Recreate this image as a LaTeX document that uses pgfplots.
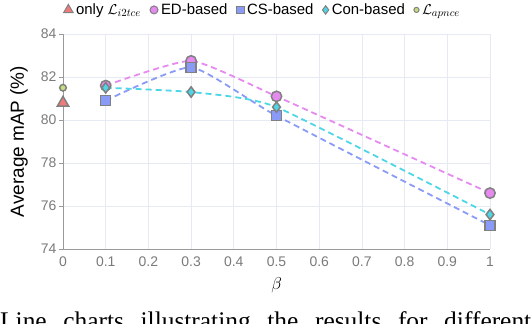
\documentclass[border=0pt]{standalone}
\usepackage{pgfplots}
\pgfplotsset{compat=1.18}
\usepackage{fontspec}
\setmainfont{Liberation Sans}
\newfontfamily\capfont{Liberation Serif}
\definecolor{cED}{HTML}{E68AF0}
\definecolor{cCS}{HTML}{8A9BF7}
\definecolor{cCon}{HTML}{4DD6E6}
\definecolor{cApn}{HTML}{C4DF7A}
\definecolor{cTri}{HTML}{F07A7A}
\definecolor{cEdge}{HTML}{808080}
\definecolor{cGrid}{HTML}{E6EAF2}
\definecolor{cTick}{HTML}{7A7A7A}

\begin{document}
\begin{tikzpicture}
\useasboundingbox (0bp,0bp) rectangle (532bp,324bp);
\begin{axis}[
  at={(63bp,75bp)}, anchor=south west,
  scale only axis, width=427bp, height=215bp,
  xmin=0, xmax=1, ymin=74, ymax=84,
  xtick={0,0.1,0.2,0.3,0.4,0.5,0.6,0.7,0.8,0.9,1},
  xticklabels={0,0.1,0.2,0.3,0.4,0.5,0.6,0.7,0.8,0.9,1},
  ytick={74,76,78,80,82,84},
  axis x line*=bottom, axis y line*=left,
  axis line style={cEdge!80, line width=0.8bp},
  grid=major, major grid style={cGrid, line width=0.8bp},
  tick align=outside, major tick length=4bp,
  xtick style={draw=none}, ytick style={cEdge!80, line width=0.8bp},
  tick label style={font=\fontsize{14}{16}\selectfont, text=cTick},
  yticklabel style={xshift=1bp},
  /pgf/number format/assume math mode=true,
  xlabel={$\beta$},
  xlabel style={at={(axis description cs:0.5,-0.167)}, anchor=center, font=\fontsize{18}{20}\selectfont},
  ylabel={Average mAP (\%)},
  ylabel style={at={(axis description cs:-0.103,0.5)}, anchor=center, rotate=0, font=\fontsize{19}{22}\selectfont},
  clip=false,
  legend columns=5,
  legend style={at={(axis description cs:0.468,1.112)}, anchor=center, draw=none, fill=none,
    font=\fontsize{15}{17}\selectfont, inner sep=0pt,
    /tikz/every odd column/.append style={column sep=1bp},
    /tikz/every even column/.append style={column sep=7bp}},
  legend image code/.code={\draw[#1] plot coordinates {(4bp,0bp)};},
  legend cell align=left,
]
% legend entries
\addlegendimage{only marks, mark=triangle*, mark size=5.5bp, mark options={draw=cEdge, fill=cTri, line width=1bp, solid}}
\addlegendentry{only $\mathcal{L}_{i2tce}$}
\addlegendimage{only marks, mark=*, mark size=4bp, mark options={draw=cEdge, fill=cED, line width=1bp, solid}}
\addlegendentry{ED-based}
\addlegendimage{only marks, mark=square*, mark size=3.8bp, mark options={draw=cEdge, fill=cCS, line width=1bp, solid, rounded corners=1bp}}
\addlegendentry{CS-based}
\addlegendimage{only marks, mark=diamond*, mark size=4.2bp, mark options={draw=cEdge, fill=cCon, line width=1bp, solid}}
\addlegendentry{Con-based}
\addlegendimage{only marks, mark=*, mark size=2.6bp, mark options={draw=cEdge, fill=cApn, line width=1bp, solid}}
\addlegendentry{$\mathcal{L}_{apnce}$}

% ED-based
\addplot[forget plot, cED, line width=1.8bp, dash pattern=on 6bp off 4bp, smooth, tension=0.3,
  mark=*, mark size=5.2bp, mark options={draw=cEdge, fill=cED, line width=1.5bp, solid}]
  coordinates {(0.1,81.6) (0.3,82.75) (0.5,81.1) (1,76.6)};
% CS-based
\addplot[forget plot, cCS, line width=1.8bp, dash pattern=on 6bp off 4bp, smooth, tension=0.3,
  mark=square*, mark size=5bp, mark options={draw=cEdge, fill=cCS, line width=1.5bp, solid, rounded corners=1.5bp}]
  coordinates {(0.1,80.9) (0.3,82.45) (0.5,80.2) (1,75.1)};
% Con-based
\addplot[forget plot, cCon, line width=1.8bp, dash pattern=on 6bp off 4bp, smooth, tension=0.3,
  mark=diamond*, mark size=5.2bp, mark options={draw=cEdge, fill=cCon, line width=1.5bp, solid}]
  coordinates {(0.1,81.5) (0.3,81.3) (0.5,80.6) (1,75.6)};
% only L_i2tce
\addplot[forget plot, only marks, mark=triangle*, mark size=6.5bp,
  mark options={draw=cEdge, fill=cTri, line width=1.5bp, solid}]
  coordinates {(0,80.8)};
% L_apnce
\addplot[forget plot, only marks, mark=*, mark size=3.3bp,
  mark options={draw=cEdge, fill=cApn, line width=1.5bp, solid}]
  coordinates {(0,81.5)};
\end{axis}
\node[anchor=base west, inner sep=0pt] at (0bp,-5bp)
  {\capfont\fontsize{25.5}{28}\selectfont\makebox[531bp][s]{Line charts illustrating the results for different}};
\end{tikzpicture}
\end{document}
